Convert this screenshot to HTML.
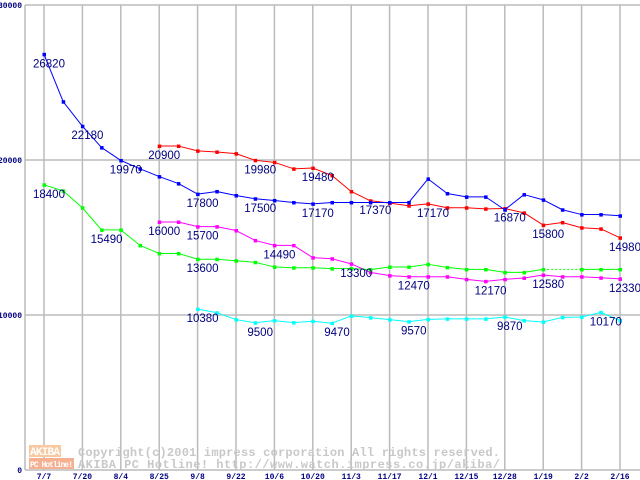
<!DOCTYPE html>
<html><head><meta charset="utf-8"><style>
body{margin:0;background:#fff;}
svg{display:block;}
</style></head><body>
<svg id="chart" width="640" height="480" xmlns="http://www.w3.org/2000/svg">
<g id="grid"></g>
<g id="wm">
<rect x="29" y="445" width="32" height="12" fill="#f8c8a0"/>
<rect x="29" y="458" width="45" height="11" fill="#f4b090"/>
<text x="30" y="455" font-family="Liberation Mono, monospace" font-size="11" font-weight="bold" fill="#fff" textLength="30">AKIBA</text>
<text x="30" y="467" font-family="Liberation Mono, monospace" font-size="8" font-weight="bold" fill="#fff" textLength="43">PC Hotline!</text>
<text x="78" y="456" font-family="Liberation Mono, monospace" font-size="12" font-weight="bold" fill="#c8c8c8" textLength="422">Copyright(c)2001 impress corporation All rights reserved.</text>
<text x="78" y="468" font-family="Liberation Mono, monospace" font-size="12" font-weight="bold" fill="#c8c8c8" textLength="422">AKIBA PC Hotline!  http://www.watch.impress.co.jp/akiba/</text>
</g>
<g id="series"></g>
<g id="labels"></g>
<g id="axes"></g>
</svg>
<script>
const xTicks=["7/7","7/20","8/4","8/25","9/8","9/22","10/6","10/20","11/3","11/17","12/1","12/15","12/28","1/19","2/2","2/16"];
const yTicks=[0,10000,20000,30000];
const blue=[26820,23760,22180,20800,19970,19430,18930,18480,17800,17970,17710,17500,17390,17260,17170,17260,17260,17260,17260,17260,18780,17840,17620,17620,16790,17770,17430,16790,16480,16480,16400];
const red=[null,null,null,null,null,null,20900,20900,20590,20520,20410,19980,19850,19430,19480,19000,17970,17370,17220,17050,17170,16920,16920,16850,16870,16590,15800,15970,15630,15560,14980];
const green=[18400,18010,16920,15490,15490,14490,13970,13970,13600,13600,13500,13400,13100,13050,13050,12990,13000,12930,13100,13100,13270,13070,12940,12940,12750,12750,12940,null,12940,12940,12940];
const magenta=[null,null,null,null,null,null,16000,16000,15700,15700,15450,14810,14490,14490,13700,13630,13300,12750,12540,12470,12470,12470,12300,12170,12300,12390,12580,12470,12470,12400,12330];
const cyan=[null,null,null,null,null,null,null,null,10380,10150,9700,9500,9640,9510,9600,9470,9940,9830,9700,9570,9720,9750,9750,9750,9870,9640,9550,9850,9870,10170,9640];
const blueLabels=[0,2,4,8,11,14];
const redLabels=[6,11,14,17,20,24,26,30];
const greenLabels=[0,3,8];
const magentaLabels=[6,8,12,16,19,23,26,30];
const cyanLabels=[8,11,15,19,24,29];

const NS="http://www.w3.org/2000/svg";
const xs=i=>44+i*19.2;
const ys=v=>470-v*0.0155;
function mk(t,a,p){const e=document.createElementNS(NS,t);for(const k in a)e.setAttribute(k,a[k]);document.getElementById(p).appendChild(e);return e;}
yTicks.forEach(v=>{const l=mk('line',{x1:25,x2:640,y1:ys(v),y2:ys(v),stroke:'#bbb','stroke-width':1.5},'grid');


const t=mk('text',{x:22,y:ys(v)+3,'text-anchor':'end','font-family':'Liberation Mono, monospace','font-size':8,'font-weight':'bold',fill:'#000080'},'axes');t.textContent=v;

});
xTicks.forEach((s,i)=>{const x=xs(i*2);const l=mk('line',{x1:x,x2:x,y1:5,y2:470,stroke:'#bbb','stroke-width':1.5},'grid');


const t=mk('text',{x:x,y:479,'text-anchor':'middle','font-family':'Liberation Mono, monospace','font-size':8,'font-weight':'bold',fill:'#000080'},'axes');t.textContent=s;

});
const ax=mk('line',{x1:25,x2:25,y1:5,y2:470,stroke:'#bbb','stroke-width':1.5},'grid');


function series(data,col,name,labs){
  for(let i=1;i<data.length;i++){
    if(data[i]!==null&&data[i-1]!==null){const l=mk('line',{x1:xs(i-1),y1:ys(data[i-1]),x2:xs(i),y2:ys(data[i]),stroke:col,'stroke-width':1},'series');
    
    }
    else if(data[i]!==null&&data[i-1]===null&&i>=2&&data[i-2]!==null){const l=mk('line',{x1:xs(i-2),y1:ys(data[i-2]),x2:xs(i),y2:ys(data[i]),stroke:col,'stroke-width':1,'stroke-dasharray':'2,2'},'series');
    
    }
  }
  data.forEach((v,i)=>{if(v===null)return;const r=mk('rect',{x:xs(i)-1.5,y:ys(v)-1.5,width:3.5,height:3.5,fill:col},'series');
  
  });
  labs.forEach(i=>{const t=mk('text',{x:xs(i)+5,y:ys(data[i])+13,'text-anchor':'middle','font-family':'Liberation Sans, sans-serif','font-size':11.5,fill:'#000080'},'labels');t.textContent=data[i];
  
  });
}
series(cyan,'#00ffff','cyan',cyanLabels);
series(magenta,'#ff00ff','magenta',magentaLabels);
series(green,'#00ff00','green',greenLabels);
series(red,'#ff0000','red',redLabels);
series(blue,'#0000ff','blue',blueLabels);
</script>
</body></html>
